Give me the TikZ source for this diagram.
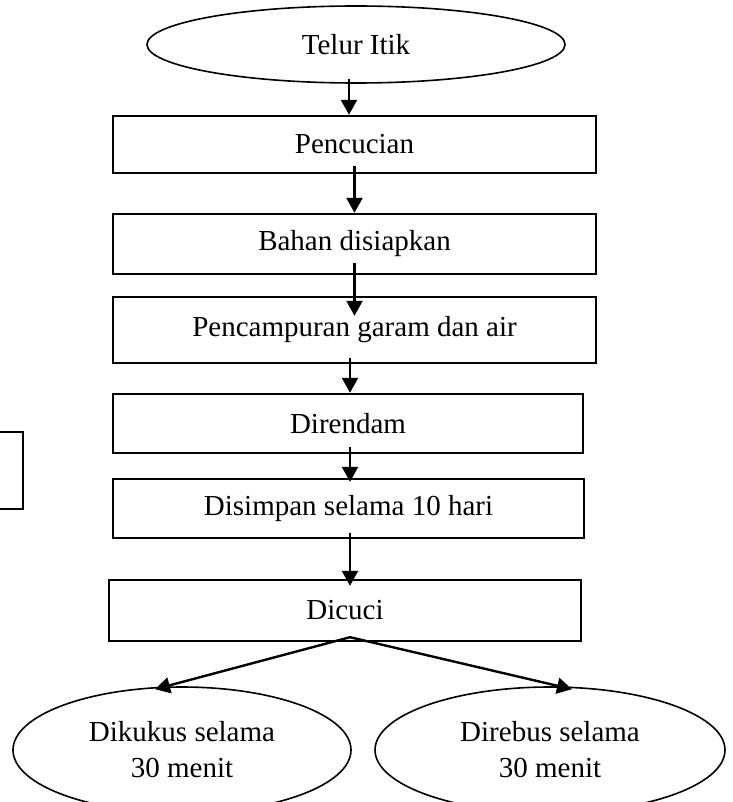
\documentclass[tikz,border=0pt]{standalone}
\usepackage{fontspec}
\setmainfont{Liberation Serif}
\usetikzlibrary{shapes.geometric,arrows.meta,calc}
\begin{document}
\begin{tikzpicture}[x=1pt,y=-1pt,
  every node/.style={font=\fontsize{29}{36}\selectfont, inner sep=0pt, align=center},
  stepbox/.style={draw, line width=2.4pt, rectangle},
  oval/.style={draw, line width=1.6pt, ellipse},
  arr/.style={line width=2.4pt, -{Triangle[length=15pt,width=16pt]}}]
\useasboundingbox (0,0) rectangle (732,802);
\clip (0,0) rectangle (732,802);
% nodes
\node[oval, minimum width=418pt, minimum height=77pt] (e0) at (356,44.5) {Telur Itik};
\node[stepbox, minimum width=483pt, minimum height=57pt] (b1) at (354.5,144.5) {Pencucian};
\node[stepbox, minimum width=483pt, minimum height=60pt] (b2) at (354.5,244) {Bahan disiapkan};
\node[stepbox, minimum width=483pt, minimum height=66pt] (b3) at (354.5,330) {Pencampuran garam dan air};
\node[stepbox, minimum width=470pt, minimum height=59pt] (b4) at (348,423.5) {Direndam};
\node[stepbox, minimum width=471pt, minimum height=59pt] (b5) at (348.5,508.5) {Disimpan selama 10 hari};
\node[stepbox, minimum width=472pt, minimum height=61pt] (b6) at (345,610.5) {Dicuci};
\node[oval, minimum width=338pt, minimum height=126pt] (e1) at (182,750) {Dikukus selama\\30 menit};
\node[oval, minimum width=350pt, minimum height=126pt] (e2) at (550,750) {Direbus selama\\30 menit};
\node[stepbox, minimum width=246pt, minimum height=77pt] (side) at (-100,470.5) {};
% connectors
\draw[arr] ($(e0.south)+(-7,-5)$) -- ($(b1.north)+(-5.5,0)$);
\draw[arr] ($(b1.south)+(0,-8)$) -- (b2.north);
\draw[arr] ($(b2.south)+(0,-12)$) -- ($(b3.north)+(0,20)$);
\draw[arr] ($(b3.south)+(-4.5,-6)$) -- ($(b4.north)+(2,0)$);
\draw[arr] ($(b4.south)+(2,-7)$) -- ($(b5.north)+(1.5,4)$);
\draw[arr] ($(b5.south)+(1.5,-6)$) -- ($(b6.north)+(5,7)$);
\draw[arr] ($(b6.south)+(5,-5)$) -- ($(e1.north)+(-27,3)$);
\draw[arr] ($(b6.south)+(5,-5)$) -- ($(e2.north)+(22,3)$);
\end{tikzpicture}
\end{document}
